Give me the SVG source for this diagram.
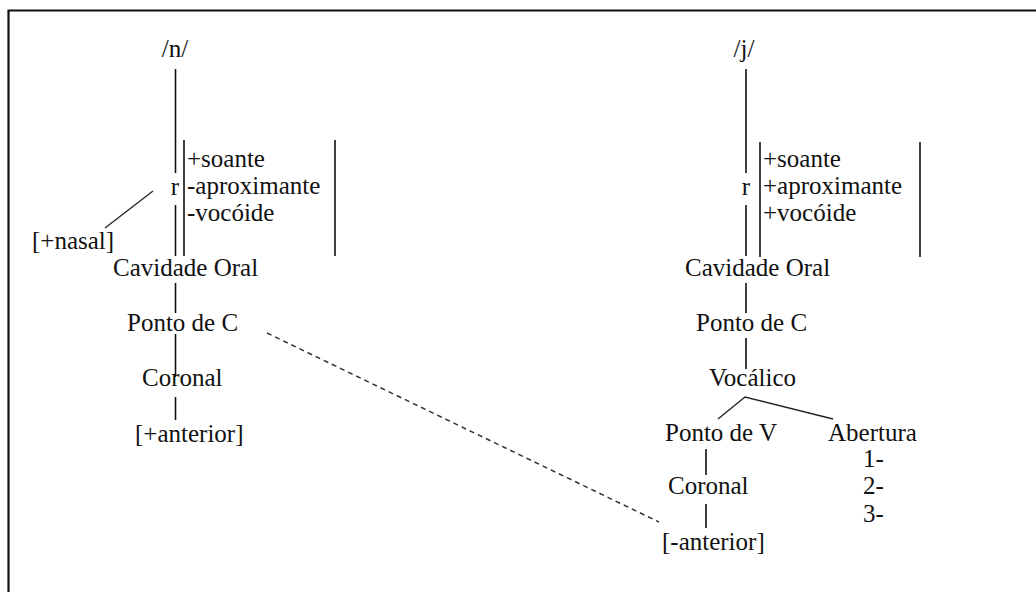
<svg xmlns="http://www.w3.org/2000/svg" width="1036" height="592" viewBox="0 0 1036 592">
<style>
.t text{font-size:25px;fill:#111}
.ln{stroke:#111;stroke-width:1.6;fill:none}
.dg{stroke:#222;stroke-width:1.3;fill:none}
.dash{stroke:#333;stroke-width:1.5;fill:none;stroke-dasharray:5 4}
</style>
<rect width="1036" height="592" fill="#fff"/>
<path d="M8.5 600 V10.5 H1040" stroke="#111" stroke-width="2.2" fill="none"/>
<g id="connectors">
<path class="ln" d="M175.5 69 V173 M175.5 205 V256 M175.5 283 V313 M175.5 334 V377 M175.5 397 V420"/>
<path class="ln" d="M184 140 V256 M335 140 V256"/>
<path class="dg" d="M105 228 L153 191"/>
<path class="ln" d="M746 69 V173 M746 205 V256 M746 283 V313 M746 338 V369"/>
<path class="ln" d="M760 142 V257 M920 142 V257"/>
<path class="dg" d="M718 419 L745 397 L833 419"/>
<path class="ln" d="M706 449 V475 M706 504 V528"/>
<path class="dash" d="M267 333 L659 522"/>
</g>
<g class="t" font-family="Times New Roman, Tinos, Liberation Serif, DejaVu Serif, Noto Serif, FreeSerif, serif">
<g id="n-root"><text x="175" y="57" text-anchor="middle">/n/</text></g>
<g id="n-r"><text x="175" y="195" text-anchor="middle">r</text></g>
<g id="n-features"><text x="187" y="167">+soante</text><text x="187" y="194">-aproximante</text><text x="187" y="221">-vocóide</text></g>
<g id="n-nasal"><text x="32" y="249">[+nasal]</text></g>
<g id="n-cavidade"><text x="113" y="276">Cavidade Oral</text></g>
<g id="n-pontoC"><text x="127" y="331">Ponto de C</text></g>
<g id="n-coronal"><text x="142" y="386">Coronal</text></g>
<g id="n-anterior"><text x="135" y="442">[+anterior]</text></g>
<g id="j-root"><text x="744" y="57" text-anchor="middle">/j/</text></g>
<g id="j-r"><text x="746" y="195" text-anchor="middle">r</text></g>
<g id="j-features"><text x="763" y="167">+soante</text><text x="763" y="194">+aproximante</text><text x="763" y="221">+vocóide</text></g>
<g id="j-cavidade"><text x="685" y="276">Cavidade Oral</text></g>
<g id="j-pontoC"><text x="696" y="331">Ponto de C</text></g>
<g id="j-vocalico"><text x="709" y="386">Vocálico</text></g>
<g id="j-pontoV"><text x="665" y="441">Ponto de V</text></g>
<g id="j-abertura"><text x="828" y="441">Abertura</text><text x="863" y="467">1-</text><text x="863" y="494">2-</text><text x="863" y="522">3-</text></g>
<g id="j-coronal"><text x="668" y="494">Coronal</text></g>
<g id="j-anterior"><text x="662" y="550">[-anterior]</text></g>
</g>
</svg>
